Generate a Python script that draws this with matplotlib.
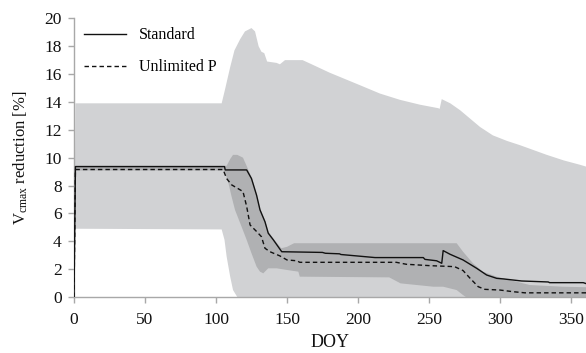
import matplotlib
matplotlib.use("Agg")
import matplotlib.pyplot as plt
import numpy as np

plt.rcParams['font.family'] = ['Liberation Serif', 'DejaVu Serif']
plt.rcParams['mathtext.fontset'] = 'custom'
plt.rcParams['mathtext.rm'] = 'Liberation Serif'
plt.rcParams['mathtext.it'] = 'Liberation Serif:italic'

# ---- data ----
light_up_days = [0, 1, 104, 106.3, 110, 113, 117, 120.4, 125, 127.5, 130, 132, 134, 136, 142.7, 145, 148.6,
                 161, 167.4, 180, 201.4, 215.5, 229.6, 243.7, 256.6, 257.5, 259, 265, 272, 279, 286, 295,
                 305, 314, 333, 345, 356, 361]
light_up_vals = [0, 13.9, 13.9, 14.87, 16.5, 17.7, 18.5, 19.06, 19.3, 19.06, 18.0, 17.6, 17.5, 16.9, 16.8, 16.7,
                 17.0, 17.0, 16.7, 16.1, 15.2, 14.6, 14.15, 13.8, 13.55, 13.5, 14.2, 13.9, 13.4, 12.8, 12.2,
                 11.6, 11.2, 10.9, 10.2, 9.8, 9.5, 9.35]
light_lo_days = [0, 1, 104, 106, 107.5, 110, 112, 115, 361]
light_lo_vals = [0, 4.9, 4.85, 4.1, 2.9, 1.46, 0.5, 0, 0]

dark_up_days = [0, 1, 106, 107.5, 110, 112, 115, 119, 121.6, 125, 128.6, 131, 134.5, 136.8, 140.4, 146,
                150, 155, 265, 269.5, 274, 281, 288, 297.7, 311.7, 321, 344, 361]
dark_up_vals = [0, 9.42, 9.42, 9.42, 9.9, 10.2, 10.2, 10.0, 9.4, 8.6, 7.4, 6.35, 5.5, 4.7, 4.2, 3.5,
                3.6, 3.86, 3.86, 3.86, 3.25, 2.42, 1.82, 1.46, 1.1, 0.86, 0.74, 0.7]
dark_lo_days = [0, 1, 106, 108.7, 111, 113.4, 118, 121.6, 125, 128.6, 131, 133.3, 136.8, 142.7, 150,
                158, 159, 222, 230, 253, 260, 269.5, 274, 276, 361]
dark_lo_vals = [0, 9.08, 9.08, 8.2, 7.2, 6.25, 5.05, 4.1, 3.14, 2.18, 1.82, 1.7, 2.06, 2.06, 1.94,
                1.82, 1.46, 1.41, 0.98, 0.74, 0.74, 0.5, 0.14, 0, 0]

std_days = [0, 1, 106, 106.5, 121.6, 125, 128.6, 131, 134.5, 136.8, 140.4, 146.3, 175, 177, 187, 188,
            199, 212, 246, 247.2, 255.4, 259, 260, 264.8, 274, 283.6, 290.6, 297.7, 302.3, 315.3, 334,
            335, 358.7, 361]
std_vals = [0, 9.36, 9.36, 9.12, 9.12, 8.5, 7.3, 6.25, 5.4, 4.58, 4.1, 3.25, 3.2, 3.14, 3.1, 3.05,
            2.95, 2.83, 2.83, 2.7, 2.6, 2.42, 3.33, 3.07, 2.66, 2.06, 1.58, 1.34, 1.3, 1.15, 1.08,
            1.03, 1.03, 0.95]

unl_days = [0, 1, 105, 107.5, 111, 119, 121.6, 124, 128.6, 132, 134.5, 138, 145, 150, 157, 159, 227,
            234, 250.7, 268, 274, 279, 284.7, 289.4, 300, 309.4, 317.6, 361]
unl_vals = [0, 9.15, 9.15, 8.5, 8.05, 7.57, 6.5, 5.17, 4.7, 4.33, 3.5, 3.25, 2.95, 2.66, 2.6, 2.49, 2.49,
            2.35, 2.25, 2.18, 1.9, 1.34, 0.74, 0.55, 0.5, 0.38, 0.3, 0.3]

x_ticks = [0, 50, 100, 150, 200, 250, 300, 350]
y_ticks = [0, 2, 4, 6, 8, 10, 12, 14, 16, 18, 20]
series_labels = ['Standard', 'Unlimited P']

# ---- figure ----
fig = plt.figure(figsize=(5.86, 3.53), dpi=100)
ax = fig.add_axes([0.1263, 0.1586, 0.8737, 0.7895])

def band(ax, xd_up, yv_up, xd_lo, yv_lo, color):
    xs = np.concatenate([xd_up, xd_lo[::-1]])
    ys = np.concatenate([yv_up, yv_lo[::-1]])
    ax.fill(xs, ys, color=color, lw=0, zorder=1)

band(ax, np.array(light_up_days), np.array(light_up_vals),
     np.array(light_lo_days), np.array(light_lo_vals), '#d1d2d4')
band(ax, np.array(dark_up_days), np.array(dark_up_vals),
     np.array(dark_lo_days), np.array(dark_lo_vals), '#b0b1b3')

ax.plot(std_days, std_vals, color='#111111', lw=1.0, ls='-', label=series_labels[0], zorder=3)
ax.plot(unl_days, unl_vals, color='#111111', lw=1.0, ls=(0, (3.2, 2.2)), label=series_labels[1], zorder=3)

ax.set_xlim(0, 360.6)
ax.set_ylim(0, 20)
ax.set_xticks(x_ticks)
ax.set_yticks(y_ticks)

for s in ['top', 'right']:
    ax.spines[s].set_visible(False)
for s in ['left', 'bottom']:
    ax.spines[s].set_color('#a8a8a8')
    ax.spines[s].set_linewidth(1.0)
ax.tick_params(axis='both', colors='#a8a8a8', labelcolor='#111111', length=4, width=1.0,
               labelsize=12.5, direction='out')
ax.tick_params(axis='x', pad=7)
ax.tick_params(axis='y', pad=5)

ax.set_xlabel('DOY', fontsize=13, color='#111111', labelpad=4)
ax.set_ylabel(r'V$_{\mathrm{cmax}}$ reduction [%]', fontsize=12, color='#111111', labelpad=10)

leg = ax.legend(loc='upper left', bbox_to_anchor=(-0.008, 1.02), frameon=False, fontsize=11.5,
                handlelength=2.6, handletextpad=0.8, labelspacing=1.0)

fig.savefig('out.png', dpi=100)
